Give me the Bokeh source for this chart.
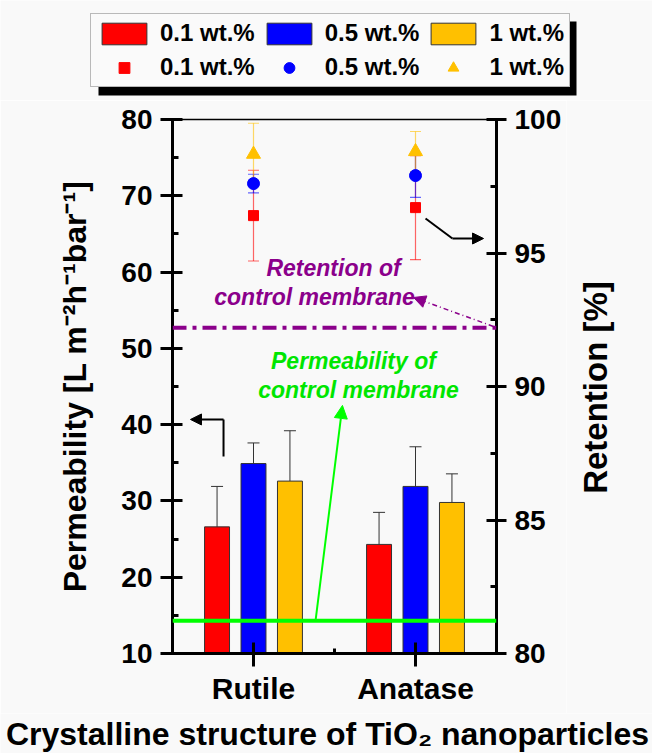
import numpy as np
from bokeh.plotting import figure
from bokeh.layouts import column, row
from bokeh.models import (ColumnDataSource, Range1d, LinearAxis, SingleIntervalTicker,
                          FixedTicker, Whisker, TeeHead, Arrow, NormalHead, Label,
                          Legend, LegendItem, Span, BoxAnnotation)
from bokeh.embed import file_html
from bokeh.resources import INLINE

# ---------------- data ----------------
categories = ["Rutile", "Anatase"]
loadings = ["0.1 wt.%", "0.5 wt.%", "1 wt.%"]
colors = ["#FF0000", "#0000FF", "#FFC000"]

perm_01 = [26.6, 24.3]
perm_05 = [34.9, 31.9]
perm_1 = [32.6, 29.8]
perm_err_01 = [5.3, 4.2]
perm_err_05 = [2.7, 5.2]
perm_err_1 = [6.6, 3.75]

ret_01 = [96.4, 96.7]
ret_05 = [97.6, 97.9]
ret_1 = [98.7, 98.8]
ret_err_01 = [1.7, 1.95]
ret_err_05 = [0.35, 0.82]
ret_err_1 = [1.16, 0.75]

control_perm = 14.3   # permeability of control membrane (left axis)
control_ret = 92.2    # retention of control membrane (right axis)

perm_range = (10, 80)
ret_range = (80, 100)

perm_vals = [perm_01, perm_05, perm_1]
perm_errs = [perm_err_01, perm_err_05, perm_err_1]
ret_vals = [ret_01, ret_05, ret_1]
ret_errs = [ret_err_01, ret_err_05, ret_err_1]
markers = ["square", "circle", "triangle"]
marker_sizes = [10, 12, 14]

x_title = "Crystalline structure of TiO\u2082 nanoparticles"
left_title = "Permeability [L m\u207b\u00b2h\u207b\u00b9bar\u207b\u00b9]"
right_title = "Retention [%]"

# ---------------- styling ----------------
FONT = "Liberation Sans"
BG = "#f9f9f9"
PURPLE = "#8B008B"
GREEN = "#00FF00"
GREEN_TXT = "#00E600"


def no_align(fig):
    if "frame_align" in type(fig).properties():
        fig.frame_align = False


def strip(w, h):
    f = figure(width=w, height=h, x_range=Range1d(0, w), y_range=Range1d(0, h),
               x_axis_location=None, y_axis_location=None, output_backend="svg",
               toolbar_location=None, min_border=0, min_border_left=0, min_border_right=0,
               min_border_top=0, min_border_bottom=0)
    no_align(f)
    f.background_fill_color = BG
    f.border_fill_color = BG
    f.outline_line_color = None
    f.grid.visible = False
    return f


# ================= legend strip (top) =================
leg = strip(652, 100)

# legend swatches (drawn off-view; only their legend glyphs are shown)
dummy_bars = [leg.vbar(x=[-1000], top=[-1000], bottom=[-1001], width=1, fill_color=c,
                       line_color="#333333", line_width=1) for c in colors]
dummy_pts = [leg.scatter(x=[-1000], y=[-1000], marker=m, size=s - 2, fill_color=c,
                         line_color=c)
             for c, m, s in zip(colors, markers, marker_sizes)]

# drop shadow
leg.add_layout(BoxAnnotation(left=98, right=576, bottom=5, top=79, fill_color="black",
                             fill_alpha=1, line_color=None))

items = [LegendItem(label=l, renderers=[r]) for l, r in zip(loadings, dummy_bars)]
items += [LegendItem(label=l, renderers=[r]) for l, r in zip(loadings, dummy_pts)]
legend = Legend(items=items, orientation="horizontal", ncols=3, location=(90, 13),
                label_text_font=FONT, label_text_font_style="bold",
                label_text_font_size="24px", label_text_color="black",
                glyph_width=56, glyph_height=27, label_height=27, label_standoff=8,
                spacing=6, padding=5, margin=0,
                border_line_color="#777777", border_line_width=1.5,
                background_fill_color="#fafafa", background_fill_alpha=1)
leg.add_layout(legend)

# ================= main chart =================
p = figure(width=566, height=613, x_range=Range1d(0.5, 2.5),
           y_range=Range1d(*perm_range),
           output_backend="svg", toolbar_location=None,
           min_border_left=172, min_border_right=70, min_border_top=19,
           min_border_bottom=60)
no_align(p)
p.extra_y_ranges = {"ret": Range1d(*ret_range)}
p.background_fill_color = BG
p.border_fill_color = BG
p.outline_line_color = "black"
p.outline_line_width = 1.5
p.xgrid.visible = False
p.ygrid.visible = False

xs = np.arange(1, len(categories) + 1).astype(float)
offsets = [-0.225, 0.0, 0.225]
bar_w = 0.154

for vals, errs, c, off in zip(perm_vals, perm_errs, colors, offsets):
    v = np.array(vals)
    e = np.array(errs)
    src = ColumnDataSource(dict(x=xs + off, top=v, upper=v + e, lower=v - e))
    p.vbar(x="x", top="top", bottom=0, width=bar_w, source=src,
           fill_color=c, line_color="#333333", line_width=1)
    p.add_layout(Whisker(base="x", upper="upper", lower="lower", source=src,
                         line_color="#333333", line_width=1,
                         upper_head=TeeHead(size=12, line_color="#333333", line_width=1),
                         lower_head=TeeHead(size=12, line_color="#333333", line_width=1)))

# control membrane lines
p.add_layout(Span(location=control_perm, dimension="width", line_color=GREEN, line_width=4))
p.add_layout(Span(location=control_ret, dimension="width", y_range_name="ret",
                  line_color=PURPLE, line_width=4, line_dash="14 6 4 6"))

# retention points
for vals, errs, c, m, s in zip(ret_vals, ret_errs, colors, markers, marker_sizes):
    v = np.array(vals)
    e = np.array(errs)
    src = ColumnDataSource(dict(x=xs, y=v, upper=v + e, lower=v - e))
    p.scatter(x="x", y="y", source=src, marker=m, size=s, y_range_name="ret",
              fill_color=c, line_color=c)
    p.add_layout(Whisker(base="x", upper="upper", lower="lower", source=src,
                         y_range_name="ret", line_color=c, line_alpha=0.6, line_width=1.2,
                         upper_head=TeeHead(size=11, line_color=c, line_alpha=0.6, line_width=1.2),
                         lower_head=TeeHead(size=11, line_color=c, line_alpha=0.6, line_width=1.2)))

# ---------------- axes ----------------
yl = p.yaxis[0]
yl.ticker = SingleIntervalTicker(interval=10, num_minor_ticks=2)
yl.axis_label = left_title

yr = LinearAxis(y_range_name="ret", ticker=SingleIntervalTicker(interval=5, num_minor_ticks=2))
p.add_layout(yr, "right")

xa = p.xaxis[0]
xa.ticker = FixedTicker(ticks=[float(x) for x in xs], minor_ticks=[1.5])
xa.major_label_overrides = {float(x): c for x, c in zip(xs, categories)}

for ax in (yl, yr, xa):
    ax.axis_line_width = 3
    ax.major_tick_line_width = 3
    ax.minor_tick_line_width = 3
    ax.major_label_text_font = FONT
    ax.major_label_text_font_style = "bold"
    ax.major_label_text_font_size = "28px"
    ax.major_label_text_color = "black"
    ax.axis_label_text_font = FONT
    ax.axis_label_text_font_style = "bold"
    ax.axis_label_text_font_size = "32px"
    ax.axis_label_text_color = "black"

yl.major_tick_in = 10
yl.major_tick_out = 12
yl.minor_tick_in = 6
yl.minor_tick_out = 0
yl.major_label_standoff = 8
yl.axis_label_standoff = 25

yr.major_tick_in = 10
yr.major_tick_out = 10
yr.minor_tick_in = 6
yr.minor_tick_out = 0
yr.major_label_standoff = 8

xa.major_tick_in = 11
xa.major_tick_out = 13
xa.minor_tick_in = 5
xa.minor_tick_out = 0
xa.major_label_text_font_size = "30px"
xa.major_label_standoff = 5

# ---------------- annotations ----------------
def note(x, y, txt, color):
    p.add_layout(Label(x=x, y=y, text=txt, text_align="center", text_baseline="middle",
                       text_font=FONT, text_font_style="bold italic",
                       text_font_size="23px", text_color=color))

note(1.494, 60.47, "Retention of", PURPLE)
note(1.377, 56.67, "control membrane", PURPLE)
note(1.617, 48.28, "Permeability of", GREEN_TXT)
note(1.648, 44.48, "control membrane", GREEN_TXT)

p.add_layout(Arrow(x_start=2.481, y_start=52.87, x_end=1.988, y_end=56.67,
                   line_color=PURPLE, line_width=1.5, line_dash="5 3 1 3",
                   end=NormalHead(size=12, fill_color=PURPLE, line_color=PURPLE)))
p.add_layout(Arrow(x_start=1.383, y_start=control_perm, x_end=1.549, y_end=42.52,
                   line_color=GREEN, line_width=2,
                   end=NormalHead(size=13, fill_color=GREEN, line_color=GREEN)))
p.add_layout(Arrow(x_start=0.815, y_start=35.83, x_end=0.815, y_end=40.68,
                   line_color="black", line_width=2, end=None))
p.add_layout(Arrow(x_start=0.815, y_start=40.68, x_end=0.611, y_end=40.68,
                   line_color="black", line_width=2,
                   end=NormalHead(size=11, fill_color="black", line_color="black")))
p.add_layout(Arrow(x_start=2.062, y_start=67.03, x_end=2.228, y_end=64.4,
                   line_color="black", line_width=2, end=None))
p.add_layout(Arrow(x_start=2.228, y_start=64.4, x_end=2.420, y_end=64.4,
                   line_color="black", line_width=2,
                   end=NormalHead(size=11, fill_color="black", line_color="black")))

# ================= right strip: rotated right-axis title =================
side = strip(86, 613)
side.add_layout(Label(x=29, y=326, text=right_title, angle=np.pi / 2,
                      text_align="center", text_baseline="middle", text_font=FONT,
                      text_font_style="bold", text_font_size="33px", text_color="black"))

# ================= bottom strip: x-axis title =================
bottom = strip(652, 40)
bottom.add_layout(Label(x=327, y=20, text=x_title, text_align="center",
                        text_baseline="middle", text_font=FONT, text_font_style="bold",
                        text_font_size="32px", text_color="black"))

layout = column(leg, row(p, side, spacing=0), bottom, spacing=0)
open("out.html", "w").write(file_html(layout, INLINE))
